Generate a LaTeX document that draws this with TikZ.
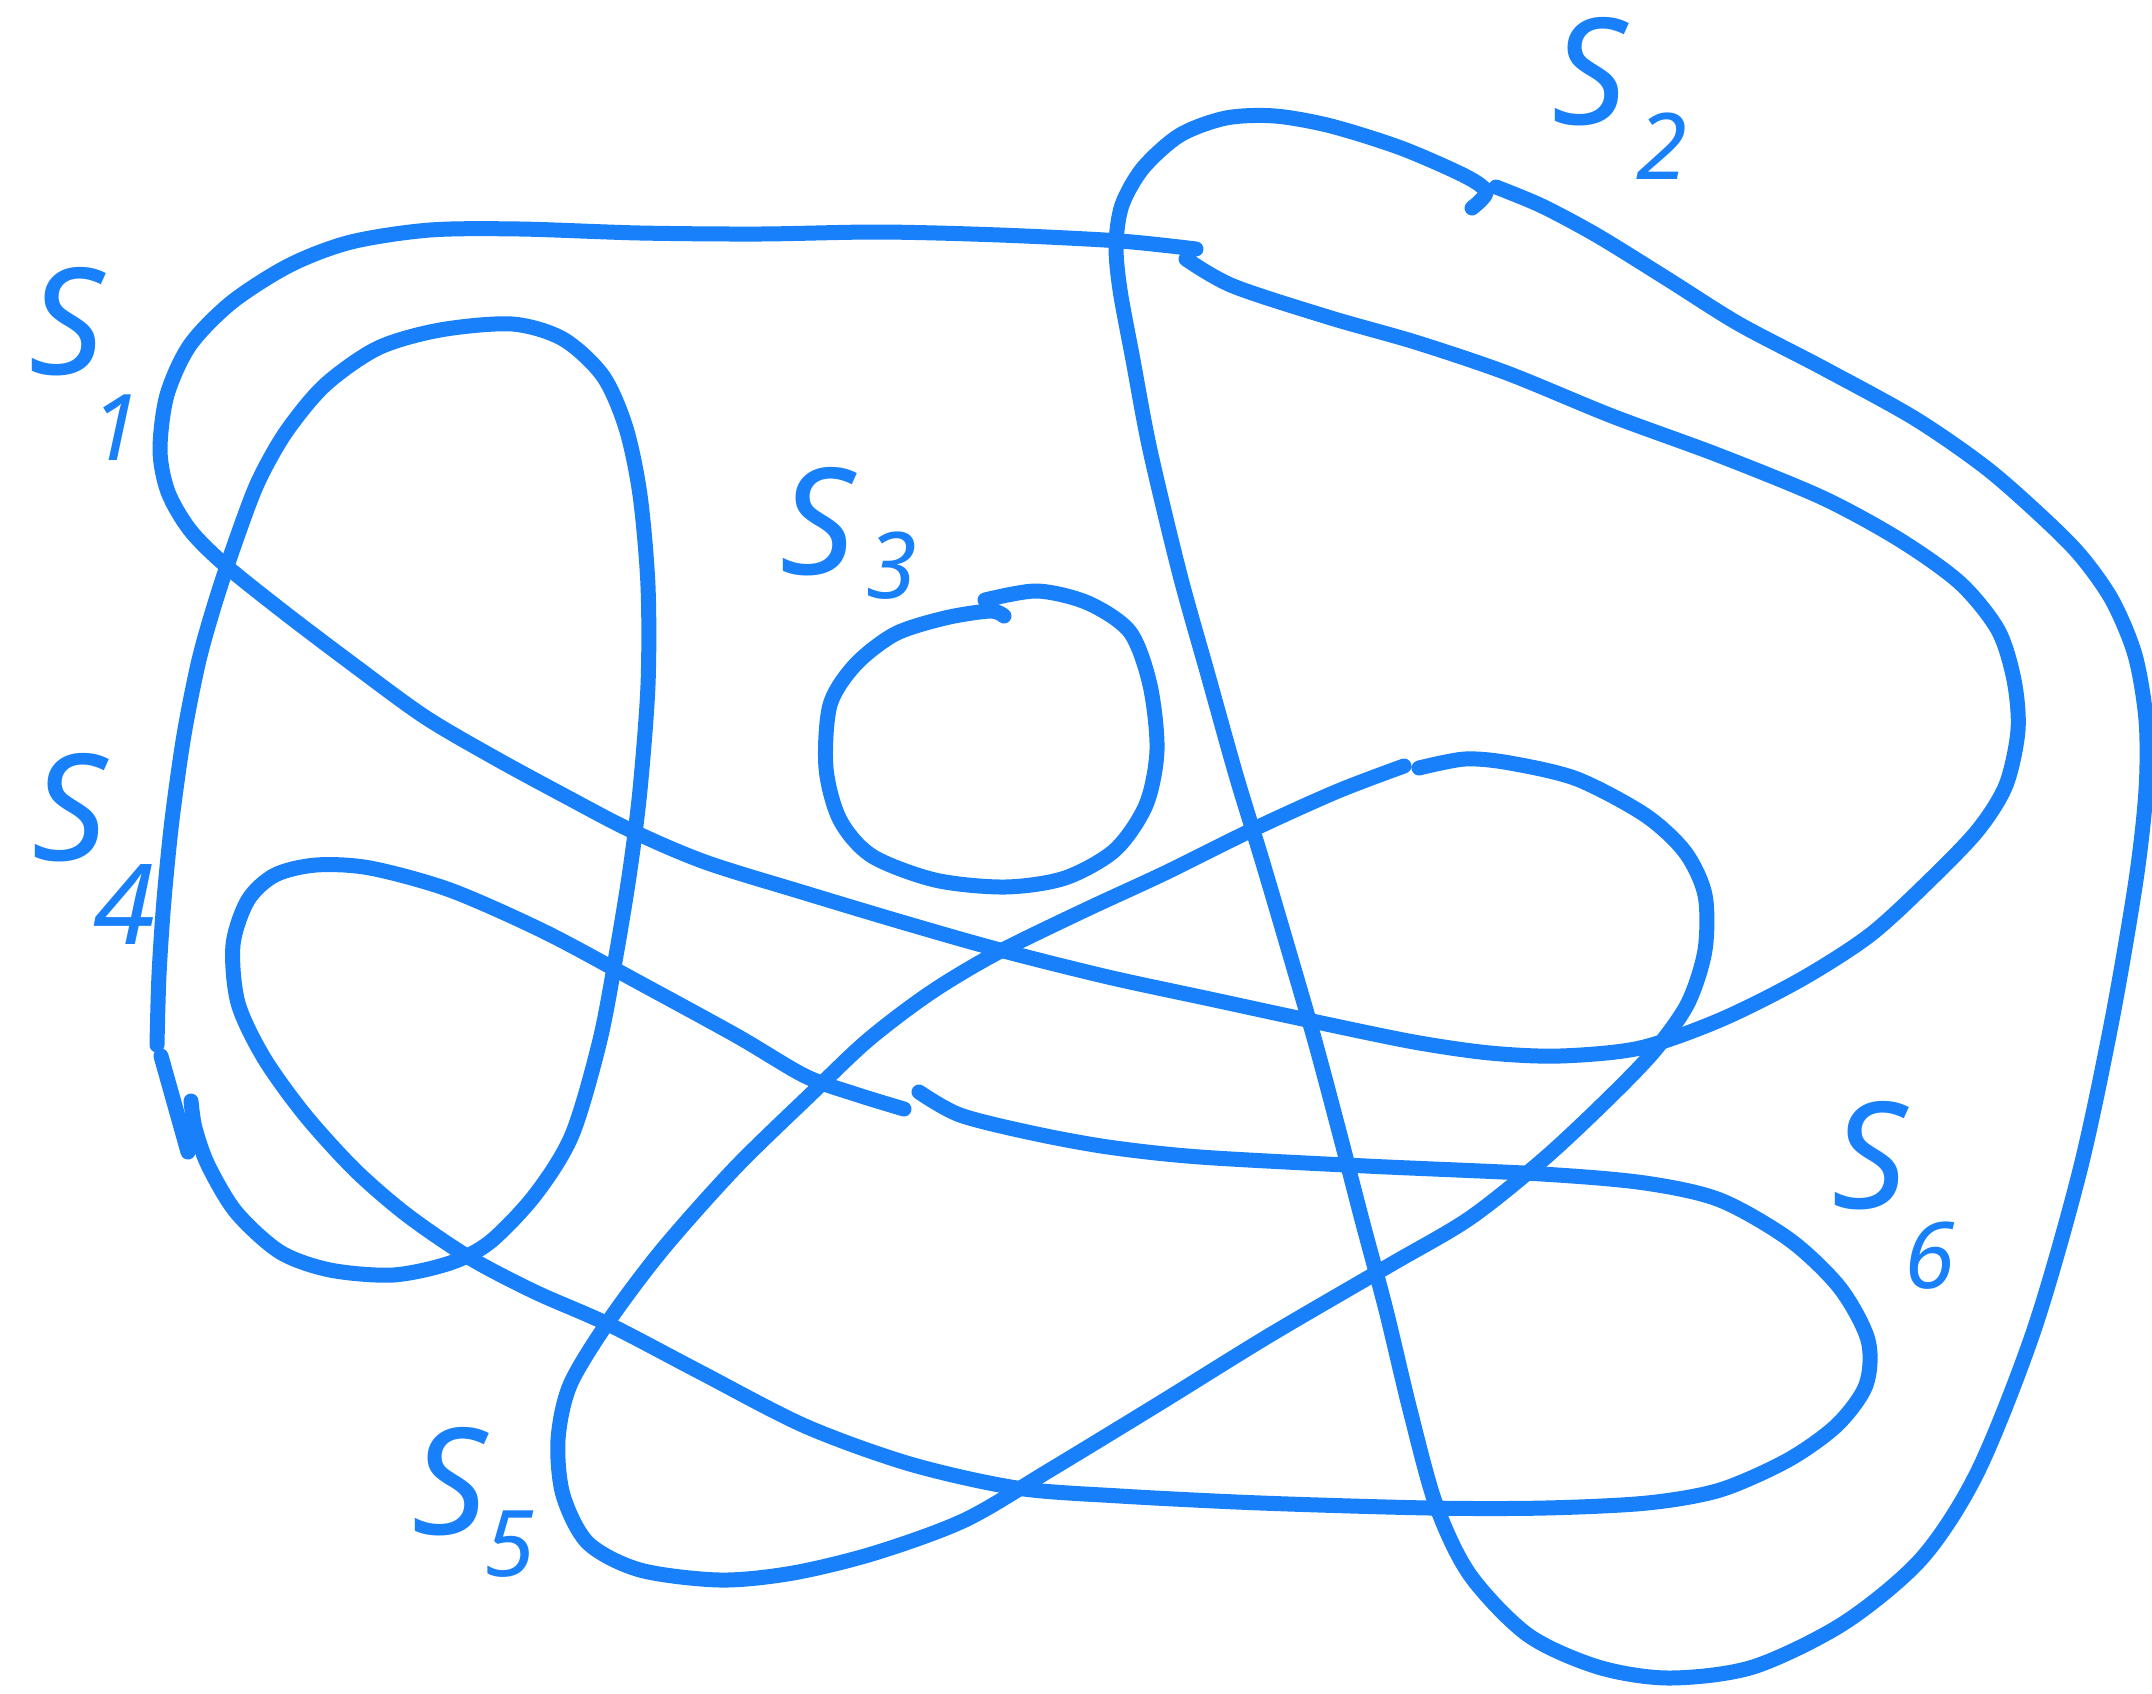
\documentclass[tikz,border=0pt]{standalone}
\usepackage{fontspec}
\newfontfamily\labfont{Noto Sans}
\definecolor{knotblue}{RGB}{24,128,251}
\tikzset{
  knot/.style={draw=knotblue, line width=7.5pt, line cap=round, line join=round},
  slab/.style={text=knotblue, inner sep=0pt, font=\labfont\itshape\fontsize{74}{74}\selectfont},
  nlab/.style={text=knotblue, inner sep=0pt, font=\labfont\itshape\bfseries\fontsize{46}{46}\selectfont}
}
\begin{document}
\begin{tikzpicture}[x=0.5pt,y=-0.5pt]
\fill[white] (0,0) rectangle (2152,1693);
\useasboundingbox (0,0) rectangle (2152,1693);

% top line, outer left curve, diagonal and right inner loop
\draw[knot] plot[smooth] coordinates {(1196,249) (1120,241) (1000,235) (880,232) (760,234) (640,233) (520,229) (430,230) (351,242) (290,265) (232,302) (190,345) (167,395) (160,450) (168,492) (190,530) (225,565) (285,613) (355,666) (425,717) (495,758) (565,796) (630,830) (705,862) (805,893) (905,923) (1000,950) (1108,977) (1210,999) (1312,1021) (1414,1042) (1490,1053) (1560,1056) (1640,1048) (1720,1020) (1800,980) (1870,935) (1930,880) (1978,830) (2006,785) (2018,730) (2014,680) (1998,630) (1960,583) (1900,540) (1823,498) (1718,455) (1612,416) (1507,373) (1415,342) (1331,318) (1233,286) (1186,259)};

% top loop, long vertical, outer right
\draw[knot] plot[smooth] coordinates {(1472,208) (1486,192) (1465,176) (1401,148) (1331,126) (1275,116) (1226,118) (1180,135) (1143,168) (1122,205) (1116,245) (1120,290) (1133,360) (1150,450) (1180,575) (1208,675) (1236,775) (1262,860) (1290,955) (1316,1045) (1340,1135) (1362,1220) (1386,1310) (1410,1410) (1436,1505) (1470,1575) (1528,1635) (1598,1667) (1669,1678) (1753,1667) (1844,1623) (1922,1558) (1978,1471) (2034,1330) (2080,1170) (2112,1020) (2136,880) (2146,790) (2146,720) (2135,655) (2112,600) (2080,555) (2040,515) (1985,467) (1914,418) (1823,368) (1739,324) (1669,280) (1598,236) (1542,206) (1496,187)};

% inner left loop
\draw[knot] plot[smooth] coordinates {(157,1045) (159,975) (164,900) (172,820) (184,735) (199,660) (216,600) (236,540) (258,482) (286,432) (325,385) (378,348) (440,330) (512,324) (563,339) (603,376) (626,428) (640,495) (648,586) (648,685) (640,790) (630,870) (617,950) (600,1040) (572,1135) (535,1195) (490,1242) (450,1263) (393,1275) (330,1270) (280,1252) (236,1212) (208,1165) (195,1128) (191,1101)};
\draw[knot] (161,1056) -- (188,1152);

% small loop near S3
\draw[knot] plot[smooth] coordinates {(985,600) (1037,591) (1088,603) (1130,632) (1150,685) (1157,750) (1146,805) (1115,850) (1065,878) (1005,887) (935,880) (872,856) (840,820) (826,768) (830,705) (855,665) (895,634) (945,618) (990,611) (1004,616)};

% loop with gap near (1410,767)
\draw[knot] plot[smooth] coordinates {(1419,768) (1465,759) (1510,763) (1577,779) (1645,815) (1685,852) (1705,895) (1705,950) (1688,1003) (1655,1050) (1610,1097) (1545,1158) (1470,1218) (1390,1265) (1270,1335) (1160,1403) (1050,1470) (965,1520) (875,1553) (793,1573) (720,1580) (640,1570) (588,1543) (563,1495) (558,1440) (570,1385) (608,1322) (662,1250) (735,1168) (810,1095) (868,1040) (930,993) (995,954) (1083,911) (1165,873) (1256,828) (1338,791) (1404,766)};

% loop with gap near (910,1100)
\draw[knot] plot[smooth] coordinates {(904,1109) (855,1094) (805,1076) (737,1036) (640,983) (545,932) (450,890) (370,868) (316,865) (275,875) (248,900) (233,945) (238,1003) (264,1058) (305,1115) (355,1170) (407,1215) (470,1258) (535,1292) (610,1325) (700,1372) (805,1426) (910,1464) (1017,1488) (1120,1496) (1261,1503) (1430,1508) (1545,1508) (1647,1503) (1720,1490) (1788,1460) (1837,1425) (1866,1385) (1868,1340) (1840,1288) (1790,1240) (1720,1200) (1645,1183) (1542,1174) (1366,1166) (1200,1157) (1108,1147) (1032,1133) (960,1115) (919,1092)};

% labels
\node[slab] (s1) at (67,322) {S};
\node[nlab] (s1n) at (116,428) {1};
\node[slab] (s2) at (1590,72) {S};
\node[nlab] (s2n) at (1662,146) {2};
\node[slab] (s3) at (818,522) {S};
\node[nlab] (s3n) at (892,566) {3};
\node[slab] (s4) at (70,808) {S};
\node[nlab, font=\labfont\itshape\bfseries\fontsize{56}{56}\selectfont] (s4n) at (124,904) {4};
\node[slab] (s5) at (450,1482) {S};
\node[nlab] (s5n) at (510,1544) {5};
\node[slab] (s6) at (1870,1156) {S};
\node[nlab] (s6n) at (1930,1256) {6};
\end{tikzpicture}
\end{document}
